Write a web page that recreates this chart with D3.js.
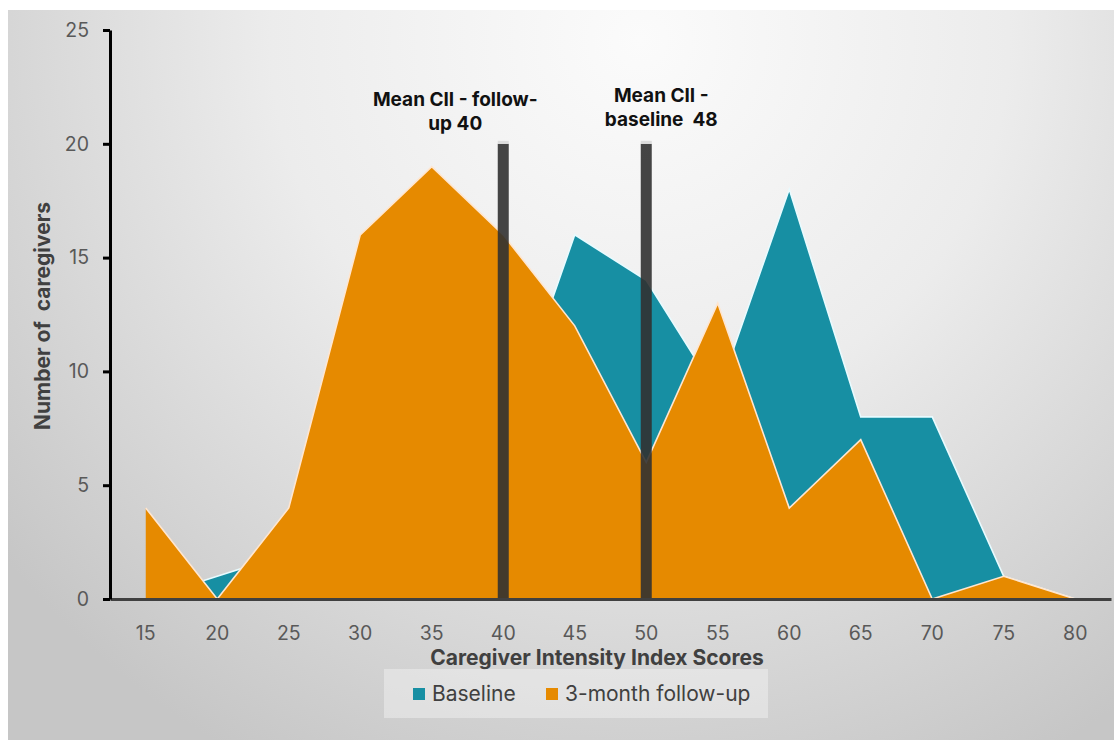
<!DOCTYPE html>
<html>
<head>
<meta charset="utf-8">
<script src="https://cdn.jsdelivr.net/npm/d3@7"></script>
<style>
  body { margin: 0; background: #fff; }
  text { font-family: Inter, "Liberation Sans", Arial, sans-serif; }
</style>
</head>
<body>
<div id="chart"></div>
<script>
// Caregiver Intensity Index score distribution, baseline vs 3-month follow-up

const scores = [15, 20, 25, 30, 35, 40, 45, 50, 55, 60, 65, 70, 75, 80];
const baseline = [0, 1, 2, 8, 12, 7, 16, 14, 9, 18, 8, 8, 1, 0];
const followUp = [4, 0, 4, 16, 19, 16, 12, 6, 13, 4, 7, 0, 1, 0];
const yTicks = [0, 5, 10, 15, 20, 25];
const meanLines = [
    { score: 40, top: 20, label: ['Mean CII - follow-', 'up 40'], dx: -48, y: 106 },
    { score: 50, top: 20, label: ['Mean CII -', 'baseline  48'], dx: 15, y: 102 }
];
const legendItems = [
    { name: 'Baseline', color: '#178fa3' },
    { name: '3-month follow-up', color: '#e68a00' }
];

const W = 1114, H = 740;
const margin = { top: 30, right: 3, bottom: 141, left: 110 };
const width = W - margin.left - margin.right;
const height = H - margin.top - margin.bottom;

const svg = d3.select('#chart')
    .append('svg')
    .attr('width', W)
    .attr('height', H);

// Background panel with a soft radial gradient
const defs = svg.append('defs');
const grad = defs.append('radialGradient')
    .attr('id', 'bg')
    .attr('gradientUnits', 'userSpaceOnUse')
    .attr('cx', 640).attr('cy', 40).attr('r', 820);
grad.append('stop').attr('offset', '0%').attr('stop-color', '#fbfbfb');
grad.append('stop').attr('offset', '45%').attr('stop-color', '#ececec');
grad.append('stop').attr('offset', '100%').attr('stop-color', '#c6c6c6');

svg.append('rect')
    .attr('x', 8).attr('y', 10)
    .attr('width', W - 8).attr('height', H - 10)
    .attr('fill', 'url(#bg)');

const g = svg.append('g')
    .attr('transform', `translate(${margin.left}, ${margin.top})`);

const x = d3.scaleBand()
    .domain(scores)
    .range([0, width]);
const cx = d => x(d) + x.bandwidth() / 2;

const y = d3.scaleLinear()
    .domain([0, 25])
    .range([height, 0]);

// Areas
const series = [
    { values: baseline, color: '#178fa3', edge: '#e8fbff' },
    { values: followUp, color: '#e68a00', edge: '#ffe6d0' }
];

const area = d3.area()
    .x((d, i) => cx(scores[i]))
    .y0(y(0))
    .y1(d => y(d));
const line = d3.line()
    .x((d, i) => cx(scores[i]))
    .y(d => y(d));

series.forEach(s => {
    g.append('path')
        .datum(s.values)
        .attr('d', area)
        .attr('fill', s.color);
    g.append('path')
        .datum(s.values)
        .attr('d', line)
        .attr('fill', 'none')
        .attr('stroke', s.edge)
        .attr('stroke-width', 1.6);
});

// Mean markers
meanLines.forEach(m => {
    g.append('rect')
        .attr('x', cx(m.score) - 5.5)
        .attr('y', y(m.top))
        .attr('width', 11)
        .attr('height', y(0) - y(m.top))
        .attr('fill', '#313131')
        .attr('opacity', 0.9);
    g.append('rect')
        .attr('x', cx(m.score) - 5.5)
        .attr('y', y(m.top) - 3)
        .attr('width', 11)
        .attr('height', 3)
        .attr('fill', '#dcdcdc');
    const t = svg.append('text')
        .attr('x', margin.left + cx(m.score) + m.dx)
        .attr('y', m.y)
        .attr('text-anchor', 'middle')
        .attr('font-size', 19)
        .attr('font-weight', 'bold')
        .attr('fill', '#111');
    m.label.forEach((s, i) => {
        t.append('tspan')
            .attr('x', margin.left + cx(m.score) + m.dx)
            .attr('dy', i === 0 ? 0 : 23.5)
            .attr('xml:space', 'preserve')
            .text(s);
    });
});

// X axis
const xAxis = g.append('g')
    .attr('transform', `translate(0, ${height})`)
    .call(d3.axisBottom(x).tickSize(0).tickPadding(27));
xAxis.select('.domain').attr('stroke', '#404040').attr('stroke-width', 3);
xAxis.selectAll('text')
    .attr('font-size', 19.5)
    .attr('fill', '#595959')
    .style('font-family', 'Inter, "Liberation Sans", Arial, sans-serif');

// Y axis
const yAxis = g.append('g')
    .call(d3.axisLeft(y).tickValues(yTicks).tickSize(7).tickPadding(14).tickSizeOuter(0));
yAxis.select('.domain').attr('stroke', '#000').attr('stroke-width', 3);
yAxis.selectAll('.tick line').attr('stroke', '#000').attr('stroke-width', 3);
yAxis.selectAll('text')
    .attr('font-size', 19.5)
    .attr('fill', '#595959')
    .style('font-family', 'Inter, "Liberation Sans", Arial, sans-serif');

// Axis titles
svg.append('text')
    .attr('x', 597)
    .attr('y', 665)
    .attr('text-anchor', 'middle')
    .attr('font-size', 21)
    .attr('font-weight', 'bold')
    .attr('fill', '#404040')
    .text('Caregiver Intensity Index Scores');

svg.append('text')
    .attr('transform', 'translate(50, 316) rotate(-90)')
    .attr('text-anchor', 'middle')
    .attr('font-size', 21)
    .attr('font-weight', 'bold')
    .attr('fill', '#404040')
    .attr('xml:space', 'preserve')
    .text('Number of  caregivers');

// Legend
const legend = svg.append('g').attr('transform', 'translate(384, 669)');
legend.append('rect')
    .attr('width', 384)
    .attr('height', 49)
    .attr('fill', '#fff')
    .attr('opacity', 0.35);

const lx = [29, 162];
legendItems.forEach((d, i) => {
    const item = legend.append('g').attr('transform', `translate(${lx[i]}, 0)`);
    item.append('rect')
        .attr('x', 0).attr('y', 19)
        .attr('width', 12).attr('height', 12)
        .attr('fill', d.color);
    item.append('text')
        .attr('x', 19)
        .attr('y', 32)
        .attr('font-size', 21)
        .attr('fill', '#404040')
        .text(d.name);
});
</script>
</body>
</html>
